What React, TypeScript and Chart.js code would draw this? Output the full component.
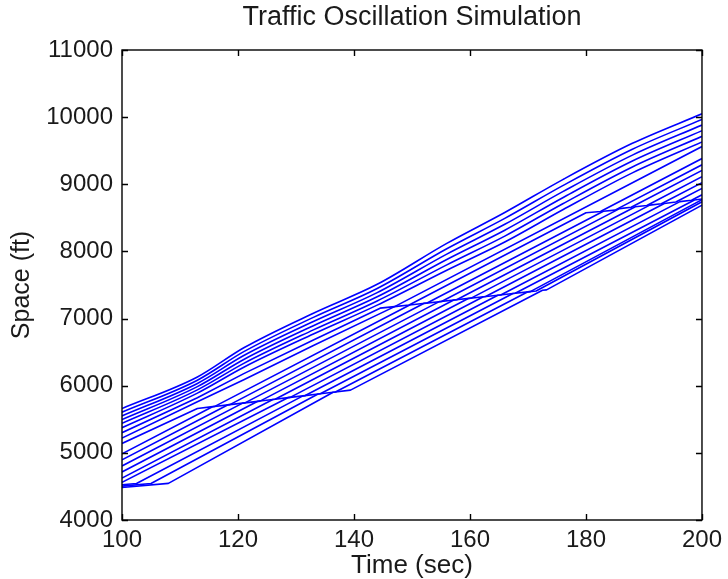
import React, { useEffect, useRef } from "react";
import { Chart, registerables } from "chart.js";

Chart.register(...registerables);

// ---- text ----
const TITLE = "Traffic Oscillation Simulation";
const X_TITLE = "Time (sec)";
const Y_TITLE = "Space (ft)";

// ---- tick labels ----
const X_TICKS = [100, 120, 140, 160, 180, 200];
const Y_TICKS = [4000, 5000, 6000, 7000, 8000, 9000, 10000, 11000];

// ---- leading platoon (common time stamps, sec) ----
const bandTimes = [100, 113, 121, 133, 144, 156, 166, 176, 188, 200];
const band0 = [5660, 6130, 6565, 7080, 7510, 8120, 8580, 9070, 9610, 10050];
const band1 = [5605, 6082, 6507, 7018, 7448, 8040, 8492, 8980, 9522, 9966];
const band2 = [5550, 6034, 6449, 6956, 7386, 7960, 8404, 8890, 9434, 9882];
const band3 = [5495, 5986, 6391, 6894, 7324, 7880, 8316, 8800, 9346, 9798];
const band4 = [5440, 5938, 6333, 6832, 7262, 7800, 8228, 8710, 9258, 9714];
const band5 = [5375, 5890, 6275, 6770, 7200, 7720, 8140, 8620, 9170, 9630];

// ---- following vehicles (stop-and-go), time (sec) / space (ft) ----
const car06T = [100, 113, 121, 133, 144.5, 147, 200];
const car06S = [5300, 5820, 6180, 6680, 7155, 7178, 9563];
const car07T = [100, 113, 121, 133, 147, 149.5, 180, 182.5, 200];
const car07S = [5220, 5760, 6090, 6600, 7178, 7202, 8575, 8595, 9383];
const car08T = [100, 113, 116, 149.6, 152.6, 183, 185, 200];
const car08S = [5140, 5661, 5692, 7203, 7232, 8599, 8615, 9290];
const car09T = [100, 115.6, 118.6, 152.1, 155.1, 185.8, 187.8, 200];
const car09S = [4985, 5687, 5718, 7227, 7255, 8638, 8658, 9207];
const car10T = [100, 118.2, 121.2, 154.7, 157.7, 188.5, 190.5, 200];
const car10S = [4895, 5714, 5745, 7252, 7280, 8665, 8685, 9113];
const car11T = [100, 120.8, 123.8, 157.2, 160.2, 191, 193, 200];
const car11S = [4805, 5741, 5771, 7276, 7304, 8690, 8710, 9025];
const car12T = [100, 123.4, 126.4, 159.7, 162.7, 193.5, 195.5, 200];
const car12S = [4715, 5768, 5799, 7300, 7328, 8715, 8735, 8938];
const car13T = [100, 126, 129, 162.3, 165.3, 196.2, 198.2, 200];
const car13S = [4625, 5795, 5826, 7324, 7352, 8742, 8762, 8843];
const car14T = [100, 128.6, 131.6, 164.8, 167.8, 198.7, 200];
const car14S = [4560, 5822, 5853, 7348, 7376, 8767, 8780];
const car15T = [100, 102.5, 131.2, 134.2, 167.4, 170.4, 200];
const car15S = [4525, 4544, 5849, 5880, 7373, 7401, 8770];
const car16T = [100, 105, 133.8, 136.8, 169.9, 171.4, 200];
const car16S = [4505, 4543, 5876, 5907, 7397, 7410, 8740];
const car17T = [100, 108, 136.4, 139.4, 172.5, 173.2, 200];
const car17S = [4485, 4545, 5903, 5934, 7421, 7428, 8690];

const bandSeries = [band0, band1, band2, band3, band4, band5];
const carSeries: [number[], number[]][] = [
  [car06T, car06S],
  [car07T, car07S],
  [car08T, car08S],
  [car09T, car09S],
  [car10T, car10S],
  [car11T, car11S],
  [car12T, car12S],
  [car13T, car13S],
  [car14T, car14S],
  [car15T, car15S],
  [car16T, car16S],
  [car17T, car17S],
];

const LINE_COLOR = "#0000ff";
const FONT = '"Liberation Sans", Arial, Helvetica, sans-serif';

const framePlugin = {
  id: "matlabFrame",
  afterDraw(chart: any) {
    const { ctx, chartArea: a, scales } = chart;
    const xs = scales.x;
    const ys = scales.y;
    ctx.save();
    ctx.strokeStyle = "#000";
    ctx.lineWidth = 1.4;
    ctx.strokeRect(a.left, a.top, a.right - a.left, a.bottom - a.top);
    const tl = 6;
    ctx.beginPath();
    X_TICKS.forEach((v) => {
      const px = Math.round(xs.getPixelForValue(v)) + 0.5;
      ctx.moveTo(px, a.bottom);
      ctx.lineTo(px, a.bottom - tl);
      ctx.moveTo(px, a.top);
      ctx.lineTo(px, a.top + tl);
    });
    Y_TICKS.forEach((v) => {
      const py = Math.round(ys.getPixelForValue(v)) + 0.5;
      ctx.moveTo(a.left, py);
      ctx.lineTo(a.left + tl, py);
      ctx.moveTo(a.right, py);
      ctx.lineTo(a.right - tl, py);
    });
    ctx.stroke();

    ctx.fillStyle = "#1a1a1a";
    ctx.textAlign = "center";
    ctx.textBaseline = "middle";
    const cx = (a.left + a.right) / 2;
    ctx.font = `27px ${FONT}`;
    ctx.fillText(TITLE, cx, 18);
    ctx.font = `26px ${FONT}`;
    ctx.fillText(X_TITLE, cx, 566);
    ctx.font = `25px ${FONT}`;
    ctx.translate(22, (a.top + a.bottom) / 2);
    ctx.rotate(-Math.PI / 2);
    ctx.fillText(Y_TITLE, 0, 0);
    ctx.restore();
  },
};

export default function App() {
  const canvasRef = useRef<HTMLCanvasElement | null>(null);

  useEffect(() => {
    if (!canvasRef.current) return;
    const datasets: any[] = [];
    bandSeries.forEach((s) => {
      datasets.push({
        data: bandTimes.map((t, i) => ({ x: t, y: s[i] })),
        cubicInterpolationMode: "monotone",
      });
    });
    carSeries.forEach(([ts, ss]) => {
      datasets.push({
        data: ts.map((t, i) => ({ x: t, y: ss[i] })),
        tension: 0,
      });
    });
    datasets.forEach((d) => {
      d.showLine = true;
      d.borderColor = LINE_COLOR;
      d.backgroundColor = LINE_COLOR;
      d.borderWidth = 1.6;
      d.pointRadius = 0;
      d.fill = false;
      d.borderJoinStyle = "round";
    });

    const chart = new Chart(canvasRef.current, {
      type: "scatter",
      data: { datasets },
      options: {
        responsive: false,
        animation: false,
        devicePixelRatio: 1,
        layout: { padding: { left: 0, right: 23, top: 50, bottom: 0 } },
        plugins: {
          legend: { display: false },
          tooltip: { enabled: false },
          title: { display: false },
        },
        scales: {
          x: {
            type: "linear",
            min: 100,
            max: 200,
            grid: { display: false, drawTicks: false },
            border: { display: false },
            ticks: {
              stepSize: 20,
              autoSkip: false,
              maxRotation: 0,
              padding: 6,
              color: "#1a1a1a",
              font: { family: FONT, size: 24 },
              callback: (v: any) => String(v),
            },
            afterFit: (s: any) => {
              s.height = 59;
            },
          },
          y: {
            type: "linear",
            min: 4000,
            max: 11000,
            grid: { display: false, drawTicks: false },
            border: { display: false },
            ticks: {
              stepSize: 1000,
              autoSkip: false,
              padding: 9,
              color: "#1a1a1a",
              font: { family: FONT, size: 24 },
              callback: (v: any) => String(v),
            },
            afterFit: (s: any) => {
              s.width = 122;
            },
          },
        },
      } as any,
      plugins: [framePlugin],
    });
    return () => chart.destroy();
  }, []);

  return (
    <div style={{ position: "fixed", left: 0, top: 0, width: 728, height: 579, background: "#fff" }}>
      <canvas ref={canvasRef} width={728} height={579} style={{ display: "block" }} />
    </div>
  );
}
